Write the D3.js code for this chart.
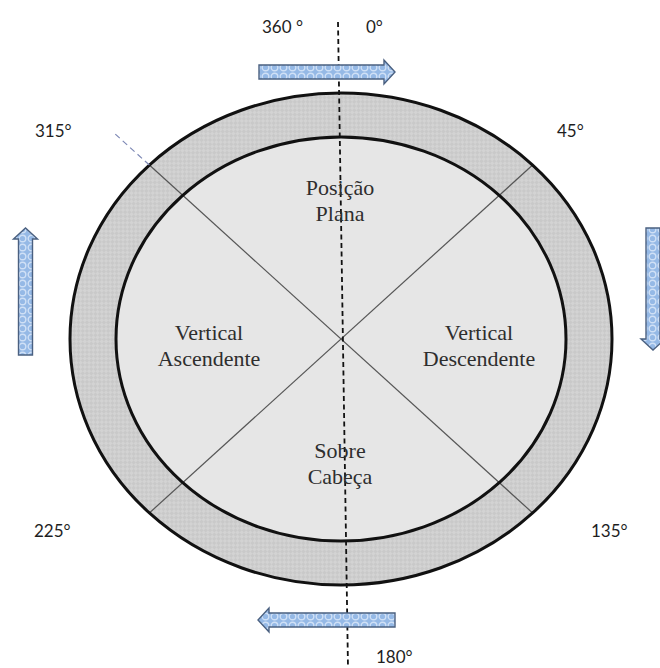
<!DOCTYPE html>
<html><head><meta charset="utf-8">
<script src="https://cdn.jsdelivr.net/npm/d3@7"></script>
<style>html,body{margin:0;padding:0;background:#fff;}svg{display:block;}</style>
</head><body>
<svg id="c" width="660" height="668"></svg>
<script>
// ---- data ----
const angleValues = [0, 45, 135, 180, 225, 315, 360];
const angleLabels = ["0°", "45°", "135°", "180°", "225°", "315°", "360 °"];
const sectorLabels = [["Posição", "Plana"], ["Vertical", "Descendente"], ["Sobre", "Cabeça"], ["Vertical", "Ascendente"]];
const sectorAngles = [0, 90, 180, 270];
const arrowDirections = ["right", "down", "left", "up"];

// ---- layout ----
const W = 660, H = 668;
const cx = 341, cy = 339;
const outer = {rx: 271, ry: 246};
const inner = {rx: 225, ry: 202};
const labelPos = {0: [366, 33], 45: [557, 137], 135: [591, 537], 180: [376, 663], 225: [34, 537], 315: [35, 137], 360: [262, 33]};
const sectorPos = {0: [340, 195], 90: [479, 340], 180: [340, 458], 270: [209, 340]};

const svg = d3.select("#c");
const defs = svg.append("defs");

// ring texture
const rp = defs.append("pattern").attr("id", "ring").attr("width", 6).attr("height", 6)
  .attr("patternUnits", "userSpaceOnUse").attr("patternTransform", "rotate(45)");
rp.append("rect").attr("width", 6).attr("height", 6).attr("fill", "#c9c9c9");
rp.append("rect").attr("width", 3).attr("height", 3).attr("fill", "#d3d3d3");
rp.append("rect").attr("x", 3).attr("y", 3).attr("width", 3).attr("height", 3).attr("fill", "#d3d3d3");

// arrow texture
const ap = defs.append("pattern").attr("id", "arrowpat").attr("width", 9).attr("height", 9)
  .attr("patternUnits", "userSpaceOnUse");
ap.append("rect").attr("width", 9).attr("height", 9).attr("fill", "#95b9e6");
ap.append("circle").attr("cx", 4.5).attr("cy", 4.5).attr("r", 3.3).attr("fill", "none").attr("stroke", "#cfe0f6").attr("stroke-width", 1.4);

// angle -> point on ellipse (clockwise from top)
const angle = d3.scaleLinear().domain([0, 360]).range([0, 2 * Math.PI]);
const onEllipse = (deg, e) => [cx + e.rx * Math.sin(angle(deg)), cy - e.ry * Math.cos(angle(deg))];

// fills
svg.append("ellipse").attr("cx", cx).attr("cy", cy).attr("rx", outer.rx).attr("ry", outer.ry)
  .attr("fill", "url(#ring)");
svg.append("ellipse").attr("cx", cx).attr("cy", cy).attr("rx", inner.rx).attr("ry", inner.ry)
  .attr("fill", "#e6e6e6");

// dividers (through the centre, outer ellipse to outer ellipse)
[45, 135].forEach(a => {
  const p1 = onEllipse(a, outer), p2 = onEllipse(a + 180, outer);
  svg.append("line").attr("x1", p1[0]).attr("y1", p1[1]).attr("x2", p2[0]).attr("y2", p2[1])
    .attr("stroke", "#555").attr("stroke-width", 1.2);
});
// outlines on top
svg.append("ellipse").attr("cx", cx).attr("cy", cy).attr("rx", outer.rx).attr("ry", outer.ry)
  .attr("fill", "none").attr("stroke", "#111").attr("stroke-width", 3);
svg.append("ellipse").attr("cx", cx).attr("cy", cy).attr("rx", inner.rx).attr("ry", inner.ry)
  .attr("fill", "none").attr("stroke", "#111").attr("stroke-width", 3);

// dashed extension at 315°
{
  const p = onEllipse(315, outer);
  const s = 1.19;
  const q = [cx + (p[0] - cx) * s, cy + (p[1] - cy) * s];
  svg.append("line").attr("x1", p[0]).attr("y1", p[1]).attr("x2", q[0]).attr("y2", q[1])
    .attr("stroke", "#7d88b5").attr("stroke-width", 1.2).attr("stroke-dasharray", "6,4");
}

// vertical dashed axis
svg.append("line").attr("x1", 338).attr("y1", 22).attr("x2", 348).attr("y2", 668)
  .attr("stroke", "#111").attr("stroke-width", 1.8).attr("stroke-dasharray", "5,3.5");

// arrows
const arrowGeom = {
  right: {x0: 259, x1: 395, y: 72, horiz: true, dir: 1},
  left: {x0: 395, x1: 258, y: 620, horiz: true, dir: -1},
  up: {y0: 355, y1: 228, x: 25.5, horiz: false, dir: -1},
  down: {y0: 228, y1: 350, x: 653, horiz: false, dir: 1}
};
const sh = 7, hh = 12, hl = 11;
arrowDirections.forEach(d => {
  const g = arrowGeom[d];
  let pts;
  if (g.horiz) {
    const b = g.x1 - g.dir * hl;
    pts = [[g.x0, g.y - sh], [b, g.y - sh], [b, g.y - hh], [g.x1, g.y], [b, g.y + hh], [b, g.y + sh], [g.x0, g.y + sh]];
  } else {
    const b = g.y1 - g.dir * hl;
    pts = [[g.x - sh, g.y0], [g.x - sh, b], [g.x - hh, b], [g.x, g.y1], [g.x + hh, b], [g.x + sh, b], [g.x + sh, g.y0]];
  }
  svg.append("path").attr("d", d3.line()(pts) + "Z")
    .attr("fill", "url(#arrowpat)").attr("stroke", "#4a6080").attr("stroke-width", 1.4);
});

// angle labels
angleValues.forEach((a, i) => {
  const p = labelPos[a];
  svg.append("text").attr("x", p[0]).attr("y", p[1]).text(angleLabels[i])
    .attr("font-family", "Lato, 'Open Sans', sans-serif").attr("font-size", 17).attr("fill", "#1e1e1e");
});

// sector labels
sectorAngles.forEach((a, i) => {
  const p = sectorPos[a];
  const t = svg.append("text").attr("text-anchor", "middle")
    .attr("font-family", "'Liberation Serif', 'Times New Roman', serif").attr("font-size", 22).attr("fill", "#2e2e2e");
  sectorLabels[i].forEach((line, j) => {
    t.append("tspan").attr("x", p[0]).attr("y", p[1] + j * 26).text(line);
  });
});
</script>
</body></html>
